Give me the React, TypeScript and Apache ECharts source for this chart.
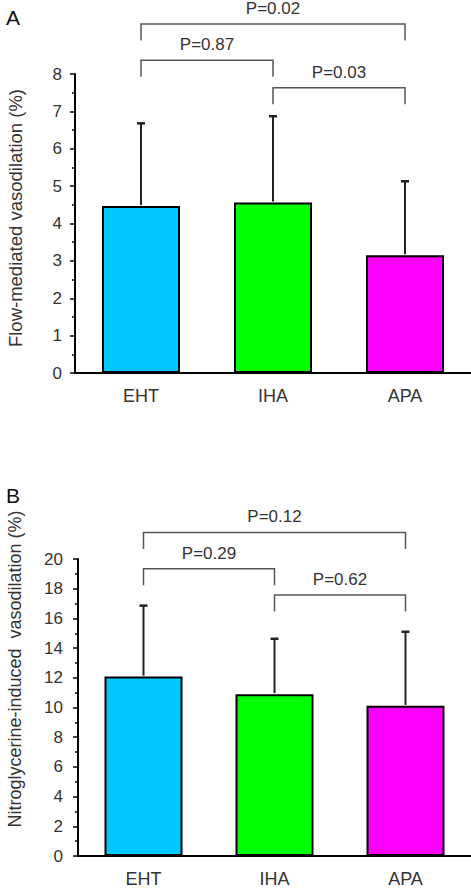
import React, { useEffect, useRef } from 'react';
import * as echarts from 'echarts';

const categories = ['EHT', 'IHA', 'APA'];
const barColors = ['#00C8FF', '#00FF00', '#FF00FF'];

// Panel A: flow-mediated vasodilation (%)
const fmdMeans = [4.47, 4.56, 3.15];
const fmdSD = [2.21, 2.31, 1.98];
const fmdMax = 8;
const fmdInterval = 1;
const fmdBracketFrom = [0, 0, 1];
const fmdBracketTo = [2, 1, 2];
const fmdBracketLevel = [9.34, 8.37, 7.63];
const fmdBracketLabel = ['P=0.02', 'P=0.87', 'P=0.03'];

// Panel B: nitroglycerine-induced vasodilation (%)
const ntgMeans = [12.08, 10.9, 10.11];
const ntgSD = [4.78, 3.73, 4.99];
const ntgMax = 20;
const ntgInterval = 2;
const ntgBracketFrom = [0, 0, 1];
const ntgBracketTo = [2, 1, 2];
const ntgBracketLevel = [21.79, 19.35, 17.57];
const ntgBracketLabel = ['P=0.12', 'P=0.29', 'P=0.62'];

const FONT = '"Liberation Sans", Arial, sans-serif';
const TXT = '#333';

function errorSeries(idx: number, means: number[], sds: number[]) {
  return {
    type: 'custom',
    xAxisIndex: idx,
    yAxisIndex: idx,
    clip: false,
    z: 5,
    encode: { x: 0, y: 1 },
    data: means.map((m, i) => [i, m, sds[i]]),
    renderItem: (params: any, api: any) => {
      const x = api.value(0);
      const m = api.value(1);
      const sd = api.value(2);
      const base = api.coord([x, m]);
      const top = api.coord([x, m + sd]);
      return {
        type: 'group',
        children: [
          { type: 'line', shape: { x1: base[0], y1: base[1] - 1, x2: top[0], y2: top[1] }, style: { stroke: '#222', lineWidth: 2 } },
          { type: 'line', shape: { x1: top[0] - 4, y1: top[1], x2: top[0] + 4, y2: top[1] }, style: { stroke: '#222', lineWidth: 2.5 } },
        ],
      };
    },
  };
}

function bracketSeries(idx: number, from: number[], to: number[], level: number[], labels: string[]) {
  return {
    type: 'custom',
    xAxisIndex: idx,
    yAxisIndex: idx,
    clip: false,
    z: 6,
    encode: { x: 0, y: 2 },
    data: from.map((f, i) => [f, to[i], level[i]]),
    renderItem: (params: any, api: any) => {
      const p1 = api.coord([api.value(0), api.value(2)]);
      const p2 = api.coord([api.value(1), api.value(2)]);
      const foot = 16.5;
      const label = labels[params.dataIndex];
      return {
        type: 'group',
        children: [
          {
            type: 'polyline',
            shape: { points: [[p1[0], p1[1] + foot], [p1[0], p1[1]], [p2[0], p2[1]], [p2[0], p2[1] + foot]] },
            style: { stroke: '#555', lineWidth: 1.5, fill: 'none' },
          },
          {
            type: 'text',
            style: {
              text: label,
              x: (p1[0] + p2[0]) / 2,
              y: p1[1] - 15.5,
              fill: TXT,
              font: '17px ' + FONT,
              align: 'center',
              verticalAlign: 'middle',
              textAlign: 'center',
              textVerticalAlign: 'middle',
            },
          },
        ],
      };
    },
  };
}

function yAxisOf(idx: number, max: number, interval: number, margin: number) {
  return {
    type: 'value',
    gridIndex: idx,
    min: 0,
    max,
    interval,
    axisLine: { show: true, lineStyle: { color: '#000', width: 2 } },
    axisTick: { show: true, inside: false, length: 5, lineStyle: { color: '#000', width: 1.5 } },
    minorTick: { show: true, splitNumber: 2, length: 3, lineStyle: { color: '#000', width: 1.5 } },
    splitLine: { show: false },
    axisLabel: { color: TXT, fontSize: 17, fontFamily: FONT, margin },
  };
}

function xAxisOf(idx: number) {
  return {
    type: 'category',
    gridIndex: idx,
    data: categories,
    axisLine: { show: true, lineStyle: { color: '#000', width: 2 } },
    axisTick: { show: false },
    axisLabel: { color: TXT, fontSize: 18, fontFamily: FONT, margin: 14 },
  };
}

function barSeries(idx: number, means: number[]) {
  return {
    type: 'bar',
    xAxisIndex: idx,
    yAxisIndex: idx,
    barWidth: 78,
    z: 3,
    data: means.map((m, i) => ({
      value: m,
      itemStyle: { color: barColors[i], borderColor: '#000', borderWidth: 2 },
    })),
  };
}

export default function App() {
  const ref = useRef<HTMLDivElement>(null);
  useEffect(() => {
    document.body.style.margin = '0';
    if (!ref.current) return;
    const chart = echarts.init(ref.current, undefined, { renderer: 'svg' });
    chart.setOption({
      animation: false,
      backgroundColor: '#fff',
      textStyle: { fontFamily: FONT },
      grid: [
        { left: 75, right: 0, top: 74, height: 299 },
        { left: 78, right: 0, top: 559, height: 299 },
      ],
      xAxis: [xAxisOf(0), xAxisOf(1)],
      yAxis: [yAxisOf(0, fmdMax, fmdInterval, 13), yAxisOf(1, ntgMax, ntgInterval, 15)],
      series: [
        barSeries(0, fmdMeans),
        errorSeries(0, fmdMeans, fmdSD),
        bracketSeries(0, fmdBracketFrom, fmdBracketTo, fmdBracketLevel, fmdBracketLabel),
        barSeries(1, ntgMeans),
        errorSeries(1, ntgMeans, ntgSD),
        bracketSeries(1, ntgBracketFrom, ntgBracketTo, ntgBracketLevel, ntgBracketLabel),
      ],
      graphic: [
        { type: 'text', left: 6, top: 7, style: { text: 'A', font: '21px ' + FONT, fill: '#111' } },
        { type: 'text', left: 6, top: 485, style: { text: 'B', font: '21px ' + FONT, fill: '#111' } },
        {
          type: 'text',
          x: 15,
          y: 218,
          rotation: Math.PI / 2,
          style: { text: 'Flow-mediated vasodilation (%)', font: '18.5px ' + FONT, fill: TXT, align: 'center', verticalAlign: 'middle', textAlign: 'center', textVerticalAlign: 'middle' },
        },
        {
          type: 'text',
          x: 15,
          y: 669,
          rotation: Math.PI / 2,
          style: { text: 'Nitroglycerine-induced  vasodilation (%)', font: '18px ' + FONT, fill: TXT, align: 'center', verticalAlign: 'middle', textAlign: 'center', textVerticalAlign: 'middle' },
        },
      ],
    });
    return () => chart.dispose();
  }, []);
  return <div ref={ref} style={{ width: 471, height: 888 }} />;
}
